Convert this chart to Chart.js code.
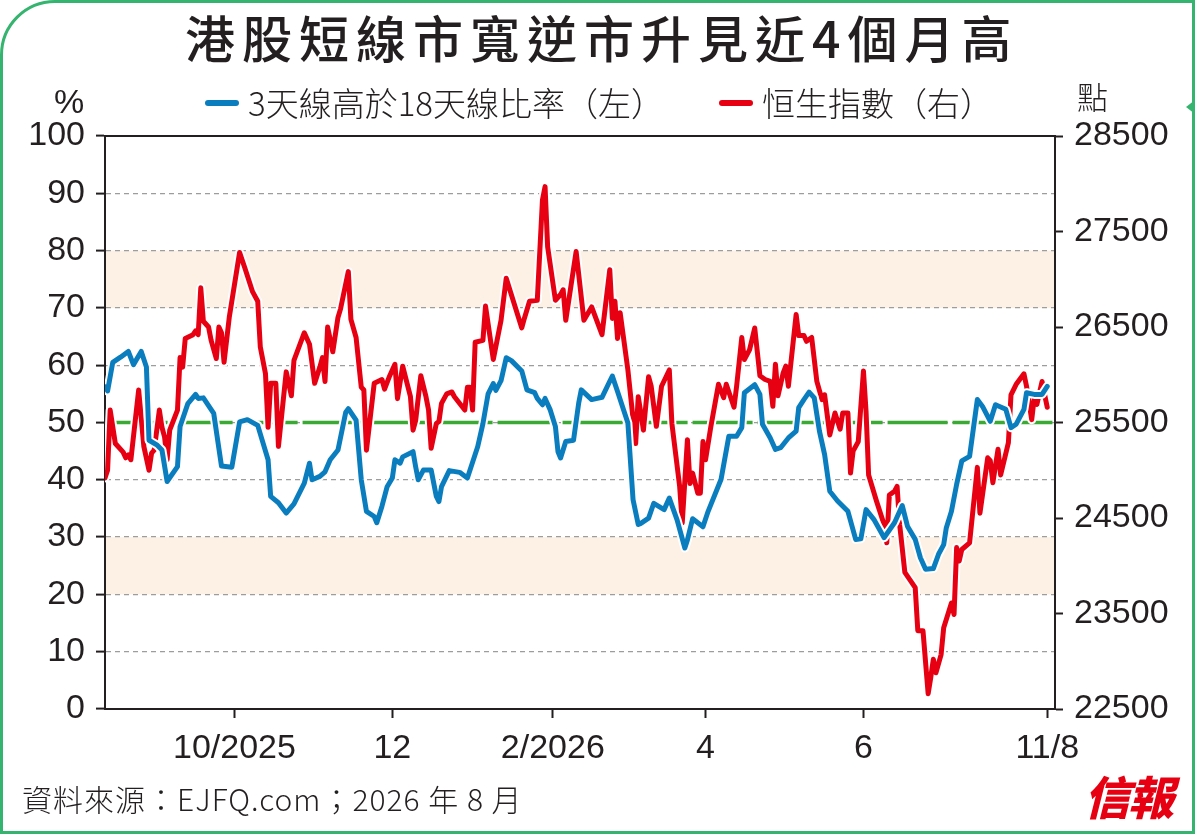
<!DOCTYPE html>
<html>
<head>
<meta charset="utf-8">
<script src="https://cdn.jsdelivr.net/npm/chart.js@4.4.1/dist/chart.umd.min.js"></script>
<style>
  html,body{margin:0;padding:0;background:#fff;}
  #wrap{position:relative;width:1200px;height:835px;overflow:hidden;background:#fff;}
  #c{position:absolute;left:0;top:0;}
  .t{position:absolute;white-space:nowrap;color:#231f20;line-height:1;}
  #frame{position:absolute;left:0;top:0;width:1195px;height:834px;box-sizing:border-box;border:3px solid #35b46f;border-top-left-radius:55px;pointer-events:none;}
  #notch{position:absolute;left:1186px;top:100px;width:0;height:0;border-top:7px solid transparent;border-bottom:7px solid transparent;border-right:9px solid #35b46f;}
  #title{left:185px;top:11px;font-family:'Noto Sans CJK TC','Noto Sans CJK SC',sans-serif;font-weight:500;font-size:50px;letter-spacing:7px;}
  .leg{font-family:'Noto Sans CJK TC',sans-serif;font-size:33px;font-weight:300;top:86px;}
  .legline{position:absolute;height:6px;border-radius:3px;top:100px;width:34px;}
  #pct{left:54px;top:84px;font-family:'Liberation Sans',Arial,sans-serif;font-size:34px;}
  #dian{left:1077px;top:80px;font-family:'Noto Sans CJK TC',sans-serif;font-size:31px;font-weight:300;}
  #foot{left:22px;top:783px;font-family:'Noto Sans CJK TC',sans-serif;font-weight:300;font-size:30px;letter-spacing:1px;}
  #logo{left:1084px;top:772px;font-family:'Noto Sans CJK TC',sans-serif;font-weight:900;font-size:46px;color:#e60012;font-style:italic;letter-spacing:-2px;}
</style>
</head>
<body>
<div id="wrap">
  <canvas id="c" width="1200" height="835"></canvas>
  <div id="frame"></div>
  <div id="notch"></div>
  <div class="t" id="title">港股短線市寬逆市升見近4個月高</div>
  <div class="legline" id="legBlue" style="left:205px;"></div>
  <div class="t leg" id="legBlueTxt" style="left:248px;"></div>
  <div class="legline" id="legRed" style="left:719px;"></div>
  <div class="t leg" id="legRedTxt" style="left:762px;"></div>
  <div class="t" id="pct">%</div>
  <div class="t" id="dian">點</div>
  <div class="t" id="foot">資料來源：EJFQ.com；2026 年 8 月</div>
  <div class="t" id="logo">信報</div>
</div>
<script>
// ---- data (x = calendar day, day 0 = 2025-08-11) ----
const tickDays   = [51, 112, 174, 233, 294, 365];
const tickLabels = ['10/2025', '12', '2/2026', '4', '6', '11/8'];

const blueName = '3天線高於18天線比率（左）';
const redName  = '恒生指數（右）';

const blueDays = [1,2,4,7,10,12,15,17,18,21,23,25,29,30,33,36,37,39,43,46,50,53,56,60,64,65,68,71,74,78,80,81,84,86,88,91,94,95,98,100,102,105,106,108,110,112,113,115,116,120,121,122,124,127,129,130,131,134,138,141,145,147,149,151,152,154,156,158,162,164,167,168,170,171,173,175,176,177,179,182,184,185,189,193,196,197,199,203,205,207,208,211,213,217,219,222,225,226,228,232,234,239,242,245,247,248,252,254,255,258,260,262,265,268,269,271,273,275,277,279,281,284,288,291,293,295,298,302,306,309,311,314,316,318,321,323,325,326,328,330,332,335,338,340,343,345,349,351,353,356,357,360,363,365];
const blueVals = [56.2,55.5,60.5,61.4,62.4,60.1,62.4,59.7,46.9,46.1,45.2,39.7,42.3,49.3,53.3,54.9,54.2,54.3,51.6,42.4,42.2,50.1,50.5,49.5,43.5,37.1,36.0,34.2,35.8,39.4,42.9,40.0,40.6,41.4,43.5,45.2,51.8,52.4,50.4,40.0,34.5,33.6,32.5,35.4,38.8,40.3,43.5,42.9,44.0,44.9,42.3,40.0,41.7,41.7,37.1,36.2,38.8,41.6,41.3,40.3,45.8,49.8,55.0,56.8,55.6,57.3,61.3,60.8,59.0,55.7,55.2,54.2,53.1,54.2,52.2,49.3,44.9,43.8,46.7,46.9,53.4,55.7,54.0,54.4,57.2,58.1,55.4,49.9,36.5,32.2,32.4,33.3,35.9,34.8,36.8,33.0,28.1,29.5,33.2,31.8,34.5,40.1,47.6,47.6,49.1,55.2,56.6,54.9,49.7,47.3,45.3,45.6,47.3,48.5,52.6,54.0,55.3,54.3,48.5,44.4,38.0,36.3,34.5,29.6,29.7,34.8,33.1,29.9,32.5,35.5,31.9,29.6,26.4,24.4,24.5,27.0,28.7,31.6,34.5,39.2,43.3,44.1,54.0,52.8,50.2,53.1,52.3,49.1,49.7,52.3,55.2,54.9,54.9,56.3];

const redDays = [1,2,3,5,8,9,10,11,14,16,18,19,20,22,23,24,25,26,29,30,31,32,35,36,37,38,39,41,42,44,45,46,47,49,53,55,58,60,61,63,64,65,67,68,71,73,74,78,80,82,84,85,86,87,89,91,92,95,96,98,100,101,102,105,108,109,111,113,114,116,119,120,121,123,125,126,127,129,130,131,133,135,136,140,141,142,143,144,147,148,151,154,156,162,163,165,168,170,171,172,175,177,178,179,183,186,189,193,196,197,198,199,200,203,206,207,208,209,211,212,214,216,219,220,223,224,226,227,228,230,231,232,233,235,238,240,241,244,245,247,248,250,252,254,256,258,259,260,261,263,264,265,268,269,271,272,274,276,278,279,281,283,285,286,288,289,290,292,294,295,296,299,302,303,304,306,307,308,310,314,315,317,319,320,321,322,324,325,328,329,330,331,332,335,338,339,342,343,344,346,347,350,351,353,356,357,359,360,361,363,364,365];
const redVals = [24920,25000,25630,25280,25190,25130,25160,25110,25840,25250,25000,25180,25210,25630,25450,25350,25110,25420,25630,26180,26080,26380,26420,26460,26420,26910,26560,26500,26360,26170,26500,26440,26130,26600,27280,27120,26870,26770,26290,26010,25450,25910,25910,25250,26030,25780,26150,26440,26320,25910,26080,26180,25930,26500,26240,26600,26690,27080,26580,26390,25870,25840,25210,25910,25950,25850,25990,26110,25750,26090,25770,25420,25520,25990,25770,25630,25230,25490,25510,25700,25800,25820,25770,25630,25870,25870,25630,26340,26360,26720,26160,26570,27010,26490,26590,26770,26780,27830,27970,27340,26780,26840,26890,26570,27290,26570,26710,26420,27100,26590,26770,26380,26650,26050,25280,25770,25600,25420,25980,25880,25460,25880,26050,25490,24830,24450,25320,24860,24970,24760,24760,25300,25110,25450,25900,25760,25900,25660,25880,26390,26160,26260,26490,25990,25950,25930,25670,26110,25780,26020,26090,25880,26630,26410,26410,26350,26390,25930,25740,25790,25370,25600,25430,25600,25600,24970,25200,25300,26040,25620,24950,24680,24430,24240,24740,24780,24830,24430,23930,23770,23320,23320,22660,22830,23020,22880,23070,23350,23610,23490,24190,24050,24170,24240,25030,24550,25130,25100,24870,25220,24950,25290,25790,25900,26010,25880,25530,25760,25690,25930,25790,25660];

const midLineValue = 50;            // green reference line (left axis)
const bands = [[20, 30], [70, 80]]; // shaded zones (left axis)

// ---- styles ----
const BLUE = '#0a7dbf', RED = '#e60012', GREEN = '#3aaa35', BAND = '#fdf1e5', INK = '#231f20', GRID = '#9d9d9d';
const X_MIN = 1, X_MAX = 368;
const tickFont = {family: "'Liberation Sans',Arial,sans-serif", size: 34};

document.getElementById('legBlue').style.background = BLUE;
document.getElementById('legRed').style.background = RED;
document.getElementById('legBlueTxt').textContent = blueName;
document.getElementById('legRedTxt').textContent = redName;

const toXY = (xs, ys) => xs.map((x, i) => ({x, y: ys[i]}));

const bandPlugin = {
  id: 'bands',
  beforeDraw(chart) {
    const {ctx, chartArea: a, scales: {y}} = chart;
    ctx.save();
    ctx.fillStyle = BAND;
    bands.forEach(([lo, hi]) => {
      const top = y.getPixelForValue(hi), bot = y.getPixelForValue(lo);
      ctx.fillRect(a.left, top, a.right - a.left, bot - top);
    });
    ctx.restore();
  }
};

new Chart(document.getElementById('c'), {
  type: 'line',
  data: {
    datasets: [
      {label: blueName, data: toXY(blueDays, blueVals), yAxisID: 'y', borderColor: BLUE, borderWidth: 5, order: 0},
      {label: 'halo-b', data: toXY(blueDays, blueVals), yAxisID: 'y', borderColor: '#ffffff', borderWidth: 9, order: 1},
      {label: redName, data: toXY(redDays, redVals), yAxisID: 'y2', borderColor: RED, borderWidth: 5, order: 2},
      {label: 'halo-r', data: toXY(redDays, redVals), yAxisID: 'y2', borderColor: '#ffffff', borderWidth: 9, order: 3},
      {label: 'mid', data: [{x: X_MIN + 1, y: midLineValue}, {x: X_MAX - 1, y: midLineValue}], yAxisID: 'y', borderColor: GREEN, borderWidth: 3.5, borderDash: [60, 5], borderCapStyle: 'butt', order: 4}
    ]
  },
  options: {
    responsive: false,
    animation: false,
    devicePixelRatio: 1,
    layout: {padding: {top: 136, left: 0, right: 0, bottom: 0}},
    elements: {
      line: {tension: 0, fill: false, borderJoinStyle: 'round', borderCapStyle: 'round'},
      point: {radius: 0, hoverRadius: 0}
    },
    plugins: {legend: {display: false}, title: {display: false}, tooltip: {enabled: false}},
    events: [],
    scales: {
      x: {
        type: 'linear', position: 'bottom', min: X_MIN, max: X_MAX,
        afterBuildTicks: (s) => { s.ticks = tickDays.map(v => ({value: v})); },
        afterFit: (s) => { s.height = 126; },
        ticks: {autoSkip: false, maxRotation: 0, minRotation: 0, padding: 10, color: INK, font: tickFont,
          callback: (v) => { const i = tickDays.indexOf(v); return i >= 0 ? tickLabels[i] : ''; }},
        grid: {display: true, drawOnChartArea: false, drawTicks: true, tickLength: 9, tickColor: INK, tickWidth: 2},
        border: {display: true, color: INK, width: 2}
      },
      xTop: {
        type: 'linear', position: 'top', min: X_MIN, max: X_MAX,
        afterFit: (s) => { s.height = 0; },
        ticks: {display: false},
        grid: {display: false, drawTicks: false},
        border: {display: true, color: INK, width: 2}
      },
      y: {
        position: 'left', min: 0, max: 100,
        afterFit: (s) => { s.width = 105; },
        ticks: {stepSize: 10, padding: 11, color: INK, font: tickFont},
        grid: {
          color: (c) => (c.tick && (c.tick.value === 0 || c.tick.value === 100)) ? 'rgba(0,0,0,0)' : GRID,
          lineWidth: 1.2, tickLength: 9, tickColor: INK, tickWidth: 2
        },
        border: {display: true, color: INK, width: 2, dash: [5, 4]}
      },
      y2: {
        position: 'right', min: 22500, max: 28500,
        afterFit: (s) => { s.width = 145; },
        ticks: {stepSize: 1000, padding: 11, color: INK, font: tickFont, callback: (v) => String(v)},
        grid: {drawOnChartArea: false, tickLength: 8, tickColor: INK, tickWidth: 2},
        border: {display: true, color: INK, width: 2}
      }
    }
  },
  plugins: [bandPlugin]
});
</script>
</body>
</html>
